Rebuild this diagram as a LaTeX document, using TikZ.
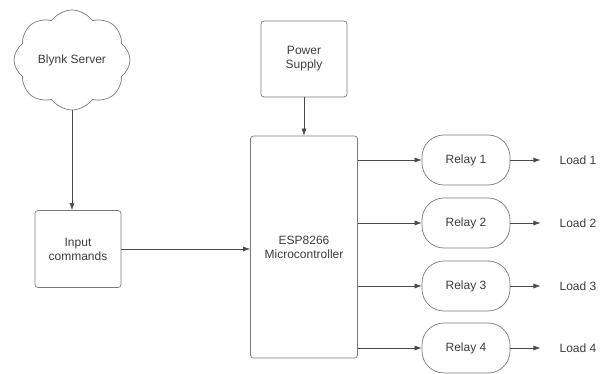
\documentclass[tikz,border=0pt]{standalone}
\usepackage{fontspec}
\setmainfont{Liberation Sans}
\usepackage{tikz}
\usetikzlibrary{arrows.meta}
\usetikzlibrary{positioning}
\usetikzlibrary{shapes.symbols}
\definecolor{edgegray}{HTML}{4A4A4A}
\definecolor{boxgray}{HTML}{7A7A7A}
\definecolor{textgray}{HTML}{3C3C3C}
\tikzstyle{every node}+=[inner sep=0pt, text=textgray, font=\fontsize{12pt}{14pt}\selectfont]
\tikzstyle{block} = [rectangle, draw=boxgray, line width=0.7pt, text centered, rounded corners=3pt, minimum width=86pt, minimum height=77pt]
\tikzstyle{relay} = [rectangle, draw=boxgray, line width=0.7pt, text centered, rounded corners=22pt, minimum width=88pt, minimum height=50pt]
\tikzstyle{line} = [draw=edgegray, line width=0.6pt, -{Latex[length=7pt,width=5pt]}]
\tikzstyle{load} = [node distance=112pt]

\begin{document}
\begin{tikzpicture}[x=1pt, y=-1pt, every text node part/.style={align=center}]
            \useasboundingbox (0,0) rectangle (608,374);
            % Place nodes
            \node [cloud, cloud puffs=8, cloud puff arc=110, aspect=1.15, draw=boxgray, line width=0.7pt, minimum width=116pt, minimum height=100pt] (server) at (72,60) {Blynk Server};
            \node [block] (input) at (78,249) {Input\\commands};
            \node [block, minimum width=107pt, minimum height=222pt] (mcu) at (304,247) {ESP8266\\Microcontroller};
            \node [block, minimum height=76pt] (power) at (304,59) {Power\\Supply};
            \node [relay] (r1) at (466,160) {Relay 1};
            \node [relay] (r2) at (466,223) {Relay 2};
            \node [relay] (r3) at (466,286) {Relay 3};
            \node [relay] (r4) at (466,348) {Relay 4};
            \node [load, right of=r1] (l1) {Load 1};
            \node [load, right of=r2] (l2) {Load 2};
            \node [load, right of=r3] (l3) {Load 3};
            \node [load, right of=r4] (l4) {Load 4};
            % Draw edges
            \path [line] (server.south) -- (server.south |- input.north);
            \path [line] (power) -- (mcu);
            \path [line] (input) -- (input -| mcu.west);
            \path [line] (mcu.east |- r1) -- (r1);
            \path [line] (mcu.east |- r2) -- (r2);
            \path [line] (mcu.east |- r3) -- (r3);
            \path [line] (mcu.east |- r4) -- (r4);
            \path [line, shorten >=19pt] (r1) -- (l1);
            \path [line, shorten >=19pt] (r2) -- (l2);
            \path [line, shorten >=19pt] (r3) -- (l3);
            \path [line, shorten >=19pt] (r4) -- (l4);
          \end{tikzpicture}
\end{document}
